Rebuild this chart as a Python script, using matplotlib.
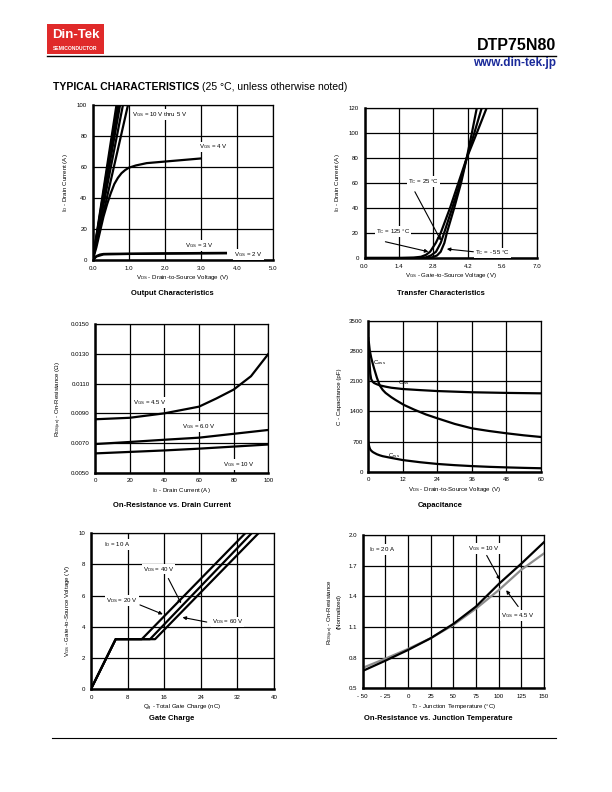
import matplotlib
matplotlib.use('Agg')
import matplotlib.pyplot as plt
from matplotlib.patches import Rectangle

plt.rcParams['font.family'] = ['Liberation Sans', 'DejaVu Sans']
plt.rcParams['mathtext.fontset'] = 'custom'
plt.rcParams['mathtext.rm'] = 'Liberation Sans'
plt.rcParams['mathtext.it'] = 'Liberation Sans:italic'
plt.rcParams['mathtext.bf'] = 'Liberation Sans:bold'

# ---- output characteristics ----
out_hi_vgs = ['10', '9', '8', '7', '6', '5']
out_hi_vds_at_100a = [0.66, 0.69, 0.72, 0.76, 0.84, 0.98]
out_vds_4 = [0, 0.1, 0.2, 0.3, 0.4, 0.5, 0.6, 0.7, 0.8, 0.9, 1.0, 1.2, 1.5, 2.0, 2.5, 3.0]
out_id_4 = [0, 8, 18, 28, 36, 43, 49, 53, 56, 58, 59.5, 61, 62.5, 63.5, 64.5, 65.5]
out_vds_3 = [0, 0.05, 0.1, 0.2, 0.3, 0.5, 1.0, 2.0, 3.0, 3.7]
out_id_3 = [0, 1, 2.5, 3.5, 3.9, 4.0, 4.1, 4.3, 4.5, 4.6]
out_vds_2 = [0, 0.1, 0.3, 1.0, 2.0, 3.7]
out_id_2 = [0, 2.2, 3.6, 3.9, 4.1, 4.3]

# ---- transfer characteristics ----
tr_vgs_125 = [0, 1.5, 2.0, 2.3, 2.5, 2.67, 2.9, 3.1, 3.48, 3.82, 4.16, 4.57, 4.97]
tr_id_125 = [0, 0, 0.3, 1, 2.5, 5, 12, 20, 40, 60, 80, 100, 120]
tr_vgs_25 = [0, 2.2, 2.5, 2.7, 2.91, 3.1, 3.24, 3.57, 3.89, 4.16, 4.47, 4.77]
tr_id_25 = [0, 0, 0.5, 2, 5, 12, 20, 40, 60, 80, 100, 120]
tr_vgs_m55 = [0, 2.5, 2.75, 2.95, 3.1, 3.25, 3.35, 3.65, 3.93, 4.16, 4.37, 4.57]
tr_id_m55 = [0, 0, 0.5, 2, 5, 12, 20, 40, 60, 80, 100, 120]

# ---- on-resistance vs drain current ----
rd_id_45 = [0, 20, 40, 60, 70, 80, 90, 100]
rd_r_45 = [0.0086, 0.0087, 0.0090, 0.00945, 0.0100, 0.0106, 0.0115, 0.0130]
rd_id = [0, 20, 40, 60, 80, 100]
rd_r_6 = [0.00693, 0.00707, 0.00722, 0.00736, 0.00762, 0.00788]
rd_r_10 = [0.0063, 0.0064, 0.0065, 0.00662, 0.00676, 0.0069]

# ---- capacitance ----
cap_vds_iss = [0, 0.15, 0.3, 0.5, 0.7, 1.0, 1.5, 2, 3, 4, 6, 8, 12, 18, 24, 36, 48, 60]
cap_iss = [3100, 2900, 2700, 2450, 2270, 2150, 2090, 2060, 2030, 2005, 1975, 1950, 1920,
           1895, 1873, 1845, 1830, 1820]
cap_vds_oss = [0.2, 0.5, 1, 1.5, 2, 3, 4, 5, 6, 8, 9.5, 12.4, 16, 20, 24, 30, 36, 42, 48, 54, 60]
cap_oss = [3000, 2820, 2650, 2520, 2400, 2180, 2000, 1900, 1830, 1730, 1665, 1550, 1440,
           1330, 1240, 1110, 1007, 945, 892, 845, 806]
cap_vds_rss = [0, 0.15, 0.3, 0.5, 0.7, 1.0, 1.5, 2, 3, 4, 5, 6.5, 8, 10, 12, 15, 18, 21, 24,
               30, 36, 42, 48, 54, 60]
cap_rss = [700, 640, 590, 545, 515, 490, 460, 440, 405, 380, 360, 340, 320, 295, 270, 245,
           220, 200, 180, 152, 130, 113, 100, 89, 80]

# ---- gate charge ----
gc_qg_20 = [0, 5.4, 11.1, 33.7]
gc_qg_40 = [0, 5.4, 12.9, 35.1]
gc_qg_60 = [0, 5.4, 14.0, 36.6]
gc_vgs = [0, 3.2, 3.2, 10]

# ---- normalized on-resistance vs temperature ----
tj = [-50, -25, 0, 25, 50, 75, 100, 125, 150]
rn_10 = [0.67, 0.77, 0.875, 0.99, 1.13, 1.30, 1.52, 1.72, 1.93]
rn_45 = [0.70, 0.79, 0.885, 0.99, 1.12, 1.28, 1.46, 1.66, 1.82]

W, H = 612, 792
fig = plt.figure(figsize=(W / 100, H / 100), dpi=100)


def box(l, t, r, b):
    return [l / W, 1 - b / H, (r - l) / W, (b - t) / H]


def style(ax, xlim, ylim, xticks, yticks, xlab, ylab, xtl=None, ytl=None):
    ax.set_xlim(xlim)
    ax.set_ylim(ylim)
    ax.set_xticks(xticks)
    ax.set_yticks(yticks)
    if xtl:
        ax.set_xticklabels(xtl)
    if ytl:
        ax.set_yticklabels(ytl)
    ax.grid(True, color='black', lw=0.9)
    ax.set_axisbelow(True)
    ax.tick_params(length=0, labelsize=4.4, pad=4)
    for s in ['left', 'bottom']:
        ax.spines[s].set_linewidth(1.8)
    for s in ['top', 'right']:
        ax.spines[s].set_linewidth(0.9)
    ax.set_xlabel(xlab, fontsize=4.4, labelpad=2)
    ax.set_ylabel(ylab, fontsize=4.4, labelpad=5)


def label(ax, x, y, s, ha='left'):
    ax.text(x, y, s, fontsize=4.4, ha=ha, va='center',
            bbox=dict(facecolor='white', edgecolor='none', pad=0.6))


def arrow(ax, tip, tail):
    ax.annotate('', xy=tip, xytext=tail,
                arrowprops=dict(arrowstyle='-|>', lw=0.8, color='black',
                                mutation_scale=5, shrinkA=0, shrinkB=0))


LW = 1.6

# header
fig.add_artist(Rectangle((47 / W, 1 - 54 / H), 57 / W, 30 / H, transform=fig.transFigure,
                         facecolor='#e02a2a', edgecolor='none'))
fig.text(75.5 / W, 1 - 35 / H, 'Din-Tek', color='white', fontsize=9.5, fontweight='bold',
         ha='center', va='center')
fig.text(75.5 / W, 1 - 48 / H, 'SEMICONDUCTOR', color='white', fontsize=3.6, fontweight='bold',
         ha='center', va='center')
fig.text(556 / W, 1 - 45 / H, 'DTP75N80', fontsize=11.5, fontweight='bold', ha='right', va='center')
fig.add_artist(plt.Line2D([47 / W, 556 / W], [1 - 56 / H, 1 - 56 / H], color='black', lw=1.0))
fig.text(556 / W, 1 - 63 / H, 'www.din-tek.jp', fontsize=8.5, fontweight='bold', color='#1a2a9a',
         ha='right', va='center')
t1 = fig.text(53 / W, 1 - 87 / H, 'TYPICAL CHARACTERISTICS', fontsize=7.5, fontweight='bold',
              ha='left', va='center')
fig.canvas.draw()
bb = t1.get_window_extent()
fig.text(bb.x1 / W + 3 / W, 1 - 87 / H, '(25 \u00b0C, unless otherwise noted)', fontsize=7.5,
         ha='left', va='center')
fig.add_artist(plt.Line2D([52 / W, 556 / W], [1 - 738 / H, 1 - 738 / H], color='black', lw=0.8))

# 1 output characteristics
ax1 = fig.add_axes(box(92.7, 105, 272.7, 260))
for v in out_hi_vds_at_100a:
    ax1.plot([0, v], [0, 100], color='black', lw=LW)
ax1.plot(out_vds_4, out_id_4, color='black', lw=LW)
ax1.plot(out_vds_3, out_id_3, color='black', lw=LW)
ax1.plot(out_vds_2, out_id_2, color='black', lw=LW)
style(ax1, (0, 5), (0, 100), [0, 1, 2, 3, 4, 5], [0, 20, 40, 60, 80, 100],
      'V$_{\\rm DS}$ - Drain-to-Source Voltage (V)', 'I$_{\\rm D}$ - Drain Current (A)',
      xtl=['0.0', '1.0', '2.0', '3.0', '4.0', '5.0'])
label(ax1, 1.08, 94, 'V$_{\\rm GS}$ = ' + out_hi_vgs[0] + ' V thru ' + out_hi_vgs[-1] + ' V')
label(ax1, 2.96, 73, 'V$_{\\rm GS}$ = 4 V')
label(ax1, 2.57, 9.5, 'V$_{\\rm GS}$ = 3 V')
label(ax1, 3.93, 3.5, 'V$_{\\rm GS}$ = 2 V')
fig.text(172 / W, 1 - 293 / H, 'Output Characteristics', fontsize=5.5, fontweight='bold', ha='center', va='center')

# 2 transfer characteristics
ax2 = fig.add_axes(box(364.5, 108, 536.5, 258))
ax2.plot(tr_vgs_125, tr_id_125, color='black', lw=LW)
ax2.plot(tr_vgs_25, tr_id_25, color='black', lw=LW)
ax2.plot(tr_vgs_m55, tr_id_m55, color='black', lw=LW)
style(ax2, (0, 7), (0, 120), [0, 1.4, 2.8, 4.2, 5.6, 7.0], [0, 20, 40, 60, 80, 100, 120],
      'V$_{\\rm GS}$ - Gate-to-Source Voltage (V)', 'I$_{\\rm D}$ - Drain Current (A)',
      xtl=['0.0', '1.4', '2.8', '4.2', '5.6', '7.0'])
label(ax2, 2.4, 61, 'T$_{\\rm C}$ = 25 \u00b0C', ha='center')
arrow(ax2, (3.11, 14), (2.05, 53))
label(ax2, 1.15, 21, 'T$_{\\rm C}$ = 125 \u00b0C', ha='center')
arrow(ax2, (2.6, 5), (0.85, 13))
label(ax2, 4.5, 4, 'T$_{\\rm C}$ = - 55 \u00b0C')
arrow(ax2, (3.35, 7.2), (4.43, 5))
fig.text(441 / W, 1 - 293 / H, 'Transfer Characteristics', fontsize=5.5, fontweight='bold', ha='center', va='center')

# 3 on-resistance vs drain current
ax3 = fig.add_axes(box(95, 324.3, 268.3, 472.7))
ax3.plot(rd_id_45, rd_r_45, color='black', lw=LW)
ax3.plot(rd_id, rd_r_6, color='black', lw=LW)
ax3.plot(rd_id, rd_r_10, color='black', lw=LW)
style(ax3, (0, 100), (0.005, 0.015), [0, 20, 40, 60, 80, 100],
      [0.005, 0.007, 0.009, 0.011, 0.013, 0.015],
      'I$_{\\rm D}$ - Drain Current (A)', 'R$_{\\rm DS(on)}$ - On-Resistance (\u03a9)',
      ytl=['0.0050', '0.0070', '0.0090', '0.0110', '0.0130', '0.0150'])
label(ax3, 21.8, 0.00974, 'V$_{\\rm GS}$ = 4.5 V')
label(ax3, 50.2, 0.0081, 'V$_{\\rm GS}$ = 6.0 V')
label(ax3, 73.8, 0.00556, 'V$_{\\rm GS}$ = 10 V')
fig.text(172 / W, 1 - 506 / H, 'On-Resistance vs. Drain Current', fontsize=5.5, fontweight='bold', ha='center', va='center')

# 4 capacitance
ax4 = fig.add_axes(box(368.3, 321, 541, 471.7))
ax4.plot(cap_vds_iss, cap_iss, color='black', lw=LW)
ax4.plot(cap_vds_oss, cap_oss, color='black', lw=LW)
ax4.plot(cap_vds_rss, cap_rss, color='black', lw=LW)
style(ax4, (0, 60), (0, 3500), [0, 12, 24, 36, 48, 60], [0, 700, 1400, 2100, 2800, 3500],
      'V$_{\\rm DS}$ - Drain-to-Source Voltage (V)', 'C - Capacitance (pF)')
ax4.text(1.6, 2524, 'C$_{\\rm oss}$', fontsize=4.4, va='center')
ax4.text(10.2, 2067, 'C$_{\\rm iss}$', fontsize=4.4, va='center')
ax4.text(6.9, 372, 'C$_{\\rm rss}$', fontsize=4.4, va='center')
fig.text(440 / W, 1 - 506 / H, 'Capacitance', fontsize=5.5, fontweight='bold', ha='center', va='center')

# 5 gate charge
ax5 = fig.add_axes(box(91, 533.3, 274, 689))
ax5.plot(gc_qg_20, gc_vgs, color='black', lw=LW)
ax5.plot(gc_qg_40, gc_vgs, color='black', lw=LW)
ax5.plot(gc_qg_60, gc_vgs, color='black', lw=LW)
style(ax5, (0, 40), (0, 10), [0, 8, 16, 24, 32, 40], [0, 2, 4, 6, 8, 10],
      'Q$_{\\rm g}$ - Total Gate Charge (nC)', 'V$_{\\rm GS}$ - Gate-to-Source Voltage (V)')
label(ax5, 2.9, 9.3, 'I$_{\\rm D}$ = 10 A')
label(ax5, 11.3, 7.7, 'V$_{\\rm DS}$ = 40 V')
arrow(ax5, (19.7, 5.5), (16.9, 7.1))
label(ax5, 3.3, 5.7, 'V$_{\\rm DS}$ = 20 V')
arrow(ax5, (15.7, 4.8), (10.7, 5.4))
label(ax5, 26.4, 4.3, 'V$_{\\rm DS}$ = 60 V')
arrow(ax5, (20.0, 4.6), (25.3, 4.3))
fig.text(172 / W, 1 - 718 / H, 'Gate Charge', fontsize=5.5, fontweight='bold', ha='center', va='center')

# 6 normalized on-resistance vs junction temperature
ax6 = fig.add_axes(box(362.7, 535, 544, 688.3))
ax6.plot(tj, rn_45, color='#8c8c8c', lw=LW)
ax6.plot(tj, rn_10, color='black', lw=LW)
style(ax6, (-50, 150), (0.5, 2.0), [-50, -25, 0, 25, 50, 75, 100, 125, 150],
      [0.5, 0.8, 1.1, 1.4, 1.7, 2.0],
      'T$_{\\rm J}$ - Junction Temperature (\u00b0C)',
      'R$_{\\rm DS(on)}$ - On-Resistance\n(Normalized)',
      xtl=['- 50', '- 25', '0', '25', '50', '75', '100', '125', '150'])
label(ax6, -42.7, 1.86, 'I$_{\\rm D}$ = 20 A')
label(ax6, 66.7, 1.87, 'V$_{\\rm GS}$ = 10 V')
arrow(ax6, (101.5, 1.56), (86.8, 1.80))
label(ax6, 102.5, 1.21, 'V$_{\\rm GS}$ = 4.5 V')
arrow(ax6, (108.3, 1.46), (121.5, 1.30))
fig.text(438 / W, 1 - 718 / H, 'On-Resistance vs. Junction Temperature', fontsize=5.5, fontweight='bold', ha='center', va='center')

fig.savefig('out.png', dpi=100)
